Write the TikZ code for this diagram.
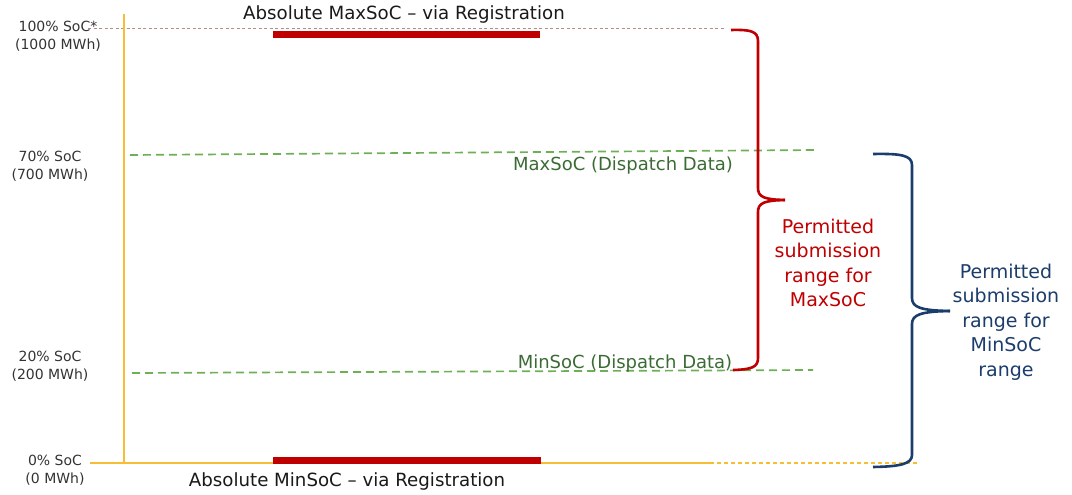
\documentclass[tikz,border=0pt]{standalone}
\usepackage{fontspec}
\setmainfont{DejaVu Sans}
\definecolor{axisyellow}{HTML}{F8BE33}
\definecolor{lvlgreen}{HTML}{6DB056}
\definecolor{txtgreen}{HTML}{3B6B34}
\definecolor{regred}{HTML}{C00000}
\definecolor{toprose}{HTML}{B48A8A}
\definecolor{navy}{HTML}{1B3D6B}
\begin{document}
\begin{tikzpicture}[x=1pt,y=-1pt,
  axisline/.style={draw=axisyellow, line width=2pt},
  axisdash/.style={draw=axisyellow, line width=1.3pt, dash pattern=on 4pt off 3pt},
  level/.style={draw=lvlgreen, line width=1.7pt, dash pattern=on 8pt off 5pt},
  toplevel/.style={draw=toprose, line width=1pt, dash pattern=on 3pt off 2.5pt},
  regbar/.style={fill=regred, draw=none},
  soclabel/.style={align=center, text=black!80, font=\fontsize{14}{18}\selectfont},
  headtext/.style={text=black!90, font=\fontsize{18.2}{22}\selectfont},
  disptext/.style={text=txtgreen, font=\fontsize{18}{22}\selectfont},
  redbrace/.style={draw=regred, line width=2.6pt, line join=round},
  bluebrace/.style={draw=navy, line width=2.6pt, line join=round},
  rangetext/.style={align=center, font=\fontsize{19}{24.5}\selectfont}
]
\useasboundingbox (0,0) rectangle (1072,495);

% reference levels
\draw[toplevel] (88,29) -- (725,29);
\draw[level] (130,155) -- (818,150);
\draw[level] (132,373) -- (813,370);

% axes
\draw[axisline] (124,14) -- (124,463);
\draw[axisline] (90,463) -- (710,463);
\draw[axisdash] (710,463) -- (918,463);

% registration limits
\fill[regbar] (273,31) rectangle (540,38);
\fill[regbar] (273,456.5) rectangle (541,464);

% SoC scale labels
\node[soclabel] (soc100) at (58,36) {100\% SoC*\\(1000 MWh)};
\node[soclabel] (soc70)  at (50,166) {70\% SoC\\(700 MWh)};
\node[soclabel] (soc20)  at (50,366) {20\% SoC\\(200 MWh)};
\node[soclabel] (soc0)   at (55,470) {0\% SoC\\(0 MWh)};

% level captions
\node[headtext] (absmax) at (404,14) {Absolute MaxSoC – via Registration};
\node[headtext] (absmin) at (347,481) {Absolute MinSoC – via Registration};
\node[disptext] (dispmax) at (623,166) {MaxSoC (Dispatch Data)};
\node[disptext] (dispmin) at (625,364) {MinSoC (Dispatch Data)};

% permitted range for MaxSoC
\draw[redbrace] (731,30) .. controls (750,29.5) and (758,31) .. (758,41)
  -- (758,188) .. controls (758,197) and (764,199.5) .. (785,200);
\draw[redbrace] (785,200) .. controls (764,200.5) and (758,203) .. (758,212)
  -- (758,358) .. controls (758,367) and (752,369.5) .. (733,370);
\node[rangetext, text=regred] (maxrange) at (828,263)
  {Permitted\\submission\\range for\\MaxSoC};

% permitted range for MinSoC
\draw[bluebrace] (873,154) .. controls (900,153.5) and (912,155) .. (912,165)
  -- (912,298) .. controls (912,307) and (920,310.5) .. (950,311);
\draw[bluebrace] (950,311) .. controls (920,311.5) and (912,315) .. (912,324)
  -- (912,455) .. controls (912,464) and (900,466.5) .. (873,467);
\node[rangetext, text=navy] (minrange) at (1006,322)
  {Permitted\\submission\\range for\\MinSoC\\range};
\end{tikzpicture}
\end{document}
